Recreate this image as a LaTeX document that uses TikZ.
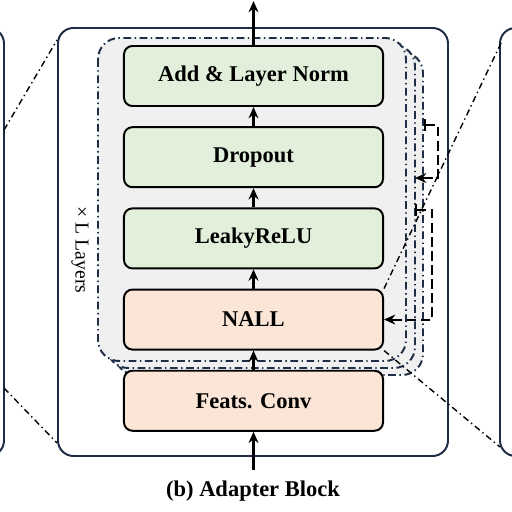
\documentclass[tikz,border=0pt]{standalone}
\usepackage{fontspec}
\setmainfont{Liberation Serif}
\usetikzlibrary{arrows.meta, positioning}
\definecolor{CNavy}{HTML}{1F2D47}
\definecolor{CGreen}{HTML}{E2EFDA}
\definecolor{CPeach}{HTML}{FBE5D6}
\definecolor{CGray}{HTML}{F0F0F0}

\begin{document}
\begin{tikzpicture}[x=0.025cm, y=-0.025cm,
    layer/.style={draw=black, line width=1.4pt, rounded corners=6pt, minimum width=6.475cm, minimum height=1.5cm, font=\fontsize{16}{19}\selectfont\bfseries},
    panel/.style={draw=CNavy, line width=1.4pt, rounded corners=11pt},
    stack/.style={draw=CNavy, fill=CGray, line width=1.4pt, rounded corners=15pt, dash pattern=on 5.5pt off 2.5pt on 1pt off 2.5pt},
    zoomline/.style={black, line width=1pt, dash pattern=on 4.5pt off 2.5pt on 1pt off 2.5pt},
    flow/.style={-{Stealth[length=8pt, width=7pt]}, line width=1.5pt},
    skip/.style={{Bar[width=8pt]}-{Stealth[length=8pt, width=7pt]}, line width=1.5pt, dash pattern=on 7pt off 3pt}
]
    \useasboundingbox (0,0) rectangle (512,512);

    % Panels
    \draw[panel] (-40,28) rectangle (4,456);
    \draw[panel] (58,28) rectangle (448,456);
    \draw[panel] (500,28) rectangle (560,456);

    % Stacked layers
    \draw[stack] (115,52) rectangle (423,375);
    \draw[stack] (107,45) rectangle (415,368);
    \draw[stack] (98,38) rectangle (406,361);

    % Blocks
    \node[layer, fill=CGreen] (norm) at (253.5,76) {Add \& Layer Norm};
    \node[layer, fill=CGreen, below=0.48cm of norm] (dropout) {Dropout};
    \node[layer, fill=CGreen, below=0.48cm of dropout] (relu) {LeakyReLU};
    \node[layer, fill=CPeach, below=0.48cm of relu] (nall) {NALL};
    \node[layer, fill=CPeach, below=0.48cm of nall] (conv) {Feats. Conv};

    % Main flow
    \coordinate (in) at (253.5,470);
    \coordinate (out) at (253.5,1);
    \draw[flow] (in) -- (conv);
    \draw[flow] (conv) -- (nall);
    \draw[flow] (nall) -- (relu);
    \draw[flow] (relu) -- (dropout);
    \draw[flow] (dropout) -- (norm);
    \draw[flow] (norm) -- (out);

    % Skip connections
    \coordinate (s1) at (424,125);
    \coordinate (t1) at (415,178);
    \coordinate (s2) at (415,210);
    \draw[skip] (s1) -- ++(14,0) |- (t1);
    \draw[skip] (s2) -- ++(17,0) |- (nall.east);

    % Zoom lines
    \coordinate (la) at (4,130);
    \coordinate (lb) at (57,40);
    \coordinate (lc) at (4,388);
    \coordinate (ld) at (57,443);
    \coordinate (ra) at (501,43);
    \coordinate (rb) at (500,447);
    \draw[zoomline] (la) -- (lb);
    \draw[zoomline] (lc) -- (ld);
    \draw[zoomline] (nall.north east) -- (ra);
    \draw[zoomline] (nall.south east) -- (rb);

    % Labels
    \node[rotate=-90, font=\fontsize{14}{16}\selectfont] (reps) at (80,250) {× L Layers};
    \node[font=\fontsize{16}{19}\selectfont\bfseries] (caption) at (253,491) {(b) Adapter Block};
\end{tikzpicture}
\end{document}
